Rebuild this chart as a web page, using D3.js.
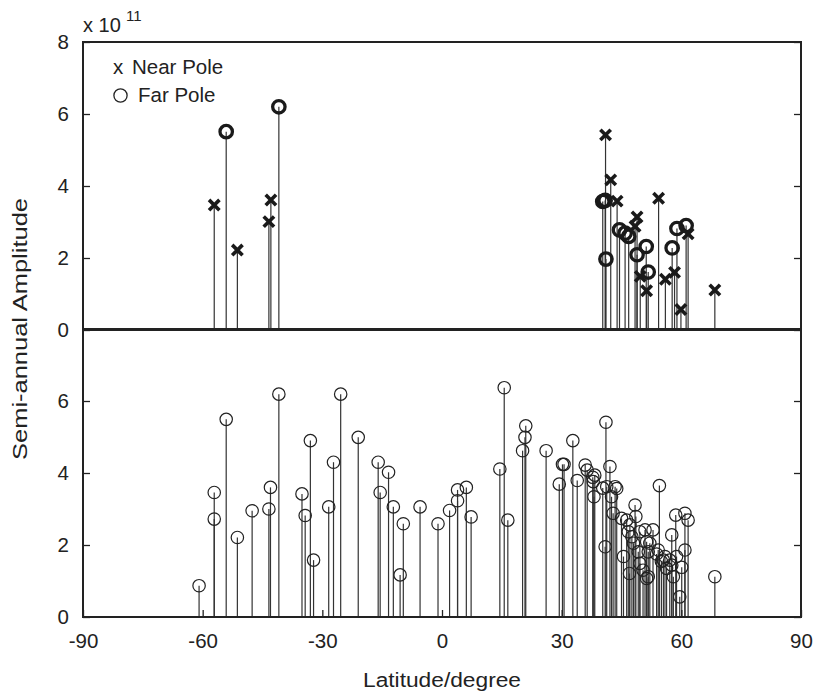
<!DOCTYPE html>
<html>
<head>
<meta charset="utf-8">
<script src="https://cdn.jsdelivr.net/npm/d3@7/dist/d3.min.js"></script>
<style>
  html, body { margin: 0; padding: 0; background: #fff; }
  svg { display: block; font-family: "Liberation Sans", Arial, Helvetica, sans-serif; }
</style>
</head>
<body>
<svg id="chart" width="816" height="699"></svg>
<script>
// Near-pole stations: [latitude, semi-annual amplitude / 1e11]
const nearPole = [
  [-57.1, 3.47], [-51.3, 2.22], [-43.4, 3.01], [-42.9, 3.61],
  [41.0, 5.42], [42.3, 4.17], [43.9, 3.58], [48.4, 2.88], [48.9, 3.14],
  [49.7, 1.49], [51.3, 1.09], [54.3, 3.66], [56.0, 1.41], [58.3, 1.60],
  [59.9, 0.57], [61.7, 2.67], [68.4, 1.11]
];

// Far-pole stations
const farPole = [
  [-54.1, 5.51], [-40.9, 6.20], [40.3, 3.57], [40.9, 3.60], [41.1, 1.97],
  [44.5, 2.78], [45.9, 2.69], [46.8, 2.60], [48.9, 2.09], [51.2, 2.32],
  [51.7, 1.61], [57.7, 2.28], [58.9, 2.82], [61.2, 2.90]
];

// All stations
const allStations = [
  [-60.9, 0.87], [-57.1, 3.46], [-57.1, 2.72], [-54.1, 5.49], [-51.3, 2.21],
  [-47.6, 2.95], [-43.4, 3.00], [-43.0, 3.60], [-40.9, 6.19], [-35.1, 3.42],
  [-34.3, 2.82], [-33.0, 4.90], [-32.2, 1.58], [-28.4, 3.06], [-27.2, 4.30],
  [-25.4, 6.19], [-21.0, 4.99], [-16.0, 4.30], [-15.5, 3.46], [-13.4, 4.02],
  [-12.2, 3.06], [-10.5, 1.17], [-9.7, 2.59], [-5.5, 3.06], [-1.0, 2.59],
  [1.9, 2.96], [3.9, 3.53], [3.9, 3.23], [6.1, 3.60], [7.3, 2.78],
  [14.5, 4.11], [15.6, 6.37], [16.5, 2.69], [20.2, 4.62], [20.8, 4.99],
  [21.0, 5.31], [26.1, 4.62], [29.4, 3.69], [30.2, 4.24], [30.6, 4.24],
  [32.8, 4.90], [33.9, 3.79], [35.9, 4.22], [36.4, 4.08], [37.8, 3.88],
  [38.3, 3.94], [37.9, 3.76], [38.1, 3.34], [40.3, 3.58], [41.1, 5.41],
  [40.9, 1.95], [41.3, 3.62], [42.1, 4.18], [42.5, 3.34], [42.9, 2.88],
  [43.4, 3.62], [43.8, 3.57], [45.0, 2.74], [45.5, 1.68], [46.3, 2.69],
  [46.7, 2.37], [47.0, 1.21], [47.1, 2.56], [47.6, 2.23], [48.0, 2.05],
  [48.4, 3.11], [48.6, 2.79], [49.2, 1.81], [49.6, 2.37], [49.6, 1.49],
  [50.4, 1.30], [50.9, 2.42], [51.3, 2.09], [51.3, 1.07], [51.7, 1.81],
  [51.7, 1.12], [52.1, 2.05], [52.9, 2.42], [53.8, 1.75], [54.2, 1.86],
  [54.5, 3.65], [55.0, 1.54], [55.5, 1.58], [55.9, 1.68], [56.3, 1.35],
  [57.1, 1.58], [57.6, 2.28], [57.6, 1.44], [58.0, 1.12], [58.6, 2.83],
  [58.8, 1.68], [59.6, 0.56], [60.1, 1.38], [60.9, 2.88], [60.9, 1.86],
  [61.7, 2.69], [68.4, 1.12]
];

const xTicks = [-90, -60, -30, 0, 30, 60, 90];
const yTicksTop = [0, 2, 4, 6, 8];
const yTicksBottom = [0, 2, 4, 6];

const ink = "#222";
const font = '"Liberation Sans", Arial, sans-serif';
const svg = d3.select("#chart");

const left = 83, right = 801;
const x = d3.scaleLinear().domain([-90, 90]).range([left, right]);
const yTop = d3.scaleLinear().domain([0, 8]).range([330, 42]);
const yBot = d3.scaleLinear().domain([0, 8]).range([617, 329]);

function styleAxis(a) {
  a.select(".domain").remove();
  a.selectAll(".tick line").attr("stroke", ink).attr("stroke-width", 1.3);
  a.selectAll("text").attr("fill", ink).style("font-size", "20.5px").style("font-family", font);
}

function frame(y, yTicks, showX) {
  const g = svg.append("g");
  // left axis: inward ticks with labels
  const la = d3.axisLeft(y).tickValues(yTicks).tickSizeInner(-7).tickSizeOuter(0)
    .tickPadding(14).tickFormat(d => String(d));
  styleAxis(g.append("g").attr("transform", `translate(${left},0)`).call(la));
  // right axis: mirrored ticks, no labels
  const ra = d3.axisRight(y).tickValues(yTicks).tickSizeInner(-7).tickSizeOuter(0).tickFormat("");
  styleAxis(g.append("g").attr("transform", `translate(${right},0)`).call(ra));
  if (showX) {
    const ba = d3.axisBottom(x).tickValues(xTicks).tickSizeInner(-7).tickSizeOuter(0)
      .tickPadding(16).tickFormat(d => String(d));
    styleAxis(g.append("g").attr("transform", `translate(0,${y(0)})`).call(ba));
  }
  // box
  g.append("rect")
    .attr("x", left).attr("y", y(8))
    .attr("width", right - left).attr("height", y(0) - y(8))
    .attr("fill", "none").attr("stroke", ink).attr("stroke-width", 2);
}

function stems(data, y) {
  svg.append("g").selectAll("line").data(data).join("line")
    .attr("x1", d => x(d[0])).attr("x2", d => x(d[0]))
    .attr("y1", y(0)).attr("y2", d => y(d[1]))
    .attr("stroke", "#333").attr("stroke-width", 1.2);
}

// ---- top panel: near / far pole ----
stems(nearPole, yTop);
stems(farPole, yTop);

const xs = 5.2;
svg.append("g").selectAll("path").data(nearPole).join("path")
  .attr("d", d => {
    const cx = x(d[0]), cy = yTop(d[1]);
    return `M${cx - xs},${cy - xs}L${cx + xs},${cy + xs}M${cx - xs},${cy + xs}L${cx + xs},${cy - xs}`;
  })
  .attr("stroke", "#1a1a1a").attr("stroke-width", 3.6).attr("fill", "none");

svg.append("g").selectAll("circle").data(farPole).join("circle")
  .attr("cx", d => x(d[0])).attr("cy", d => yTop(d[1])).attr("r", 6.2)
  .attr("fill", "none").attr("stroke", "#1a1a1a").attr("stroke-width", 3.3);

// ---- bottom panel: all stations ----
stems(allStations, yBot);
svg.append("g").selectAll("circle").data(allStations).join("circle")
  .attr("cx", d => x(d[0])).attr("cy", d => yBot(d[1])).attr("r", 6.2)
  .attr("fill", "none").attr("stroke", "#222").attr("stroke-width", 1.2);

frame(yTop, yTicksTop, false);
frame(yBot, yTicksBottom, true);

// exponent label
const ex = svg.append("text").attr("x", left).attr("y", 31.5)
  .attr("fill", ink).style("font-size", "20px");
ex.append("tspan").text("x 10");
ex.append("tspan").attr("x", 126).attr("dy", -11).style("font-size", "15px").text("11");

// legend
svg.append("text").attr("x", 113).attr("y", 74).attr("fill", ink)
  .style("font-size", "20.5px").text("x");
svg.append("text").attr("x", 132).attr("y", 74).attr("fill", ink)
  .style("font-size", "20.5px").text("Near Pole");
svg.append("circle").attr("cx", 120.5).attr("cy", 95.5).attr("r", 6.6)
  .attr("fill", "none").attr("stroke", ink).attr("stroke-width", 1.3);
svg.append("text").attr("x", 138).attr("y", 102).attr("fill", ink)
  .style("font-size", "20.5px").text("Far Pole");

// axis titles
svg.append("text").attr("x", (left + right) / 2).attr("y", 687)
  .attr("text-anchor", "middle").attr("fill", ink).style("font-size", "20px")
  .attr("textLength", 158).attr("lengthAdjust", "spacingAndGlyphs")
  .text("Latitude/degree");
svg.append("text").attr("transform", "translate(27,329) rotate(-90)")
  .attr("text-anchor", "middle").attr("fill", ink).style("font-size", "21px")
  .attr("textLength", 262).attr("lengthAdjust", "spacingAndGlyphs")
  .text("Semi-annual Amplitude");
</script>
</body>
</html>
